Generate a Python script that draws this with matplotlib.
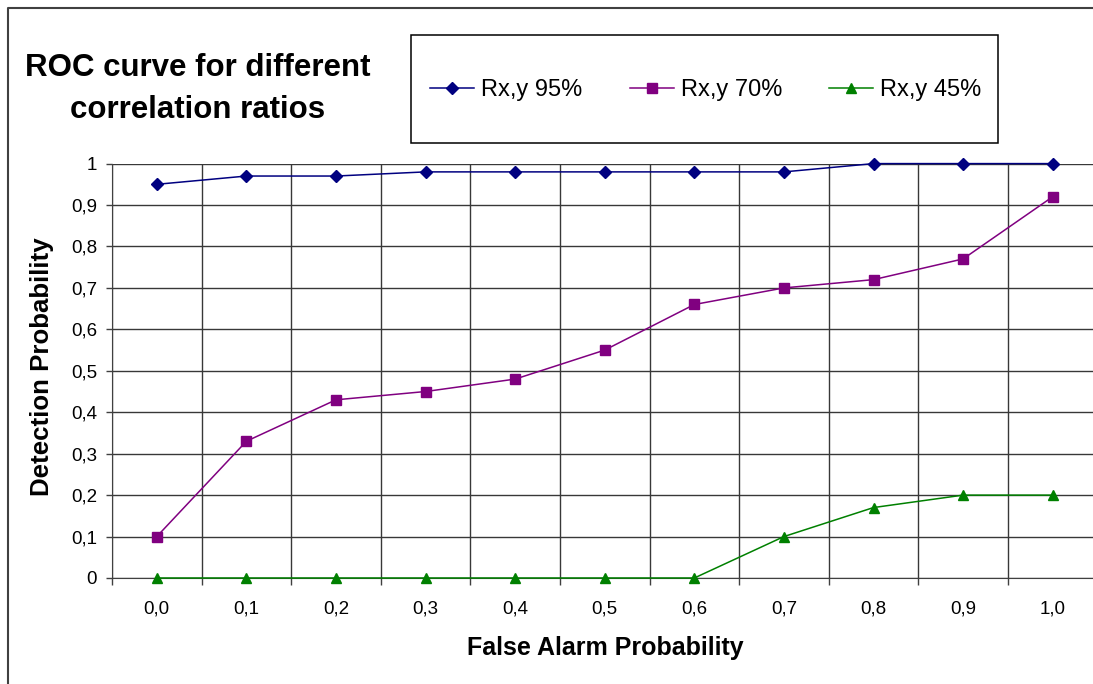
import matplotlib.pyplot as plt
import numpy as np
from matplotlib.patches import Rectangle
from matplotlib.lines import Line2D

plt.rcParams['font.family'] = ['Liberation Sans', 'DejaVu Sans']

false_alarm = ["0,0", "0,1", "0,2", "0,3", "0,4", "0,5", "0,6", "0,7", "0,8", "0,9", "1,0"]
rxy_95 = [0.95, 0.97, 0.97, 0.98, 0.98, 0.98, 0.98, 0.98, 1.0, 1.0, 1.0]
rxy_70 = [0.10, 0.33, 0.43, 0.45, 0.48, 0.55, 0.66, 0.70, 0.72, 0.77, 0.92]
rxy_45 = [0.0, 0.0, 0.0, 0.0, 0.0, 0.0, 0.0, 0.10, 0.17, 0.20, 0.20]
y_labels = ["0", "0,1", "0,2", "0,3", "0,4", "0,5", "0,6", "0,7", "0,8", "0,9", "1"]

W, H = 1093, 684
fig = plt.figure(figsize=(W / 100, H / 100), dpi=100)


def fx(px):
    return px / W


def fy(py):
    return 1 - py / H


# plot area runs slightly past the right edge of the image
left, right, top, bottom = 112, 1097.5, 163.6, 578
ax = fig.add_axes([fx(left), fy(bottom), fx(right - left), (bottom - top) / H])

x = np.arange(len(false_alarm))
ax.plot(x, rxy_95, color="#000080", lw=1.1, marker="D", ms=5.8, label="Rx,y 95%",
        clip_on=False, zorder=3)
ax.plot(x, rxy_70, color="#800080", lw=1.1, marker="s", ms=6.8, label="Rx,y 70%",
        clip_on=False, zorder=3)
ax.plot(x, rxy_45, color="#008000", lw=1.1, marker="^", ms=7.8, label="Rx,y 45%",
        clip_on=False, zorder=3)

ax.set_xlim(-0.5, len(false_alarm) - 0.5)
ax.set_ylim(0, 1)

# gridlines between categories, labels at category centres
ax.set_xticks(np.arange(-0.5, len(false_alarm)))
ax.set_xticklabels([])
ax.set_xticks(x, minor=True)
ax.set_xticklabels(false_alarm, minor=True, fontsize=13.5)
ax.tick_params(axis="x", which="major", length=5, width=1, color="#404040", direction="out")
ax.tick_params(axis="x", which="minor", length=0, pad=16.5)

ax.set_yticks(np.linspace(0, 1, 11))
ax.set_yticklabels(y_labels, fontsize=13.5)
ax.tick_params(axis="y", length=4.3, width=1, color="#404040", pad=6.5)

ax.grid(True, which="major", color="#383838", lw=1.0)
ax.set_axisbelow(True)
for side in ["top", "right"]:
    ax.spines[side].set_visible(False)
ax.spines["left"].set_color("#404040")
ax.spines["bottom"].set_color("#404040")

fig.text(fx(605), fy(648), "False Alarm Probability", fontsize=18, fontweight="bold",
         ha="center", va="center")
fig.text(fx(42), fy(367), "Detection Probability", fontsize=18.6, fontweight="bold",
         ha="center", va="center", rotation=90)

fig.text(fx(198), fy(68), "ROC curve for different", fontsize=22.5, fontweight="bold",
         ha="center", va="center")
fig.text(fx(198), fy(110), "correlation ratios", fontsize=22.5, fontweight="bold",
         ha="center", va="center")

# chart border (left and top edges only visible)
fig.add_artist(Line2D([fx(7.5), fx(7.5), fx(W + 5)], [fy(H + 5), fy(7.5), fy(7.5)],
                      color="#404040", lw=1.5))

# legend box
fig.add_artist(Rectangle((fx(411), fy(143)), fx(998 - 411), (143 - 35) / H,
                         fill=False, edgecolor="black", lw=1.1))
handles, labels = ax.get_legend_handles_labels()
fig.legend(handles, labels, loc="center", bbox_to_anchor=(fx(706), fy(90)), ncol=3,
           frameon=False, fontsize=17, handlelength=1.86, handletextpad=0.3,
           columnspacing=2.0)

fig.savefig("out.png", dpi=100)
